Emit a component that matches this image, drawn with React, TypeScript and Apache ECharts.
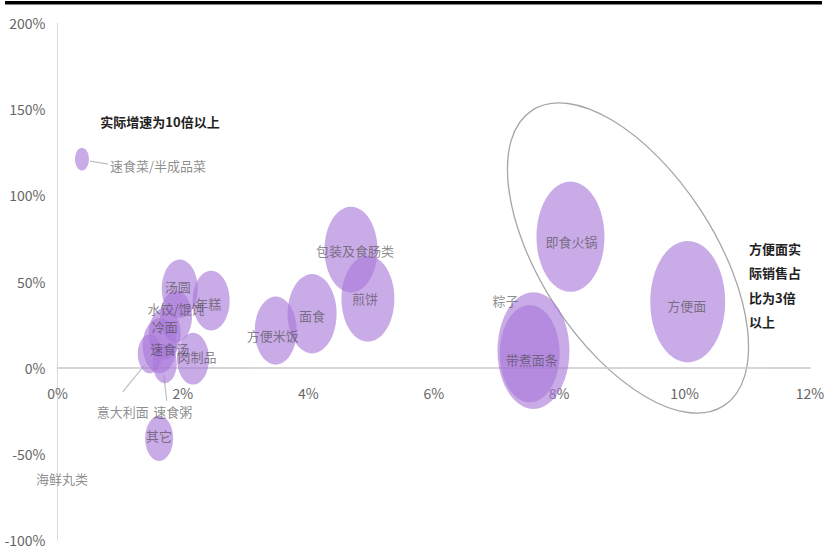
import React, { useEffect, useRef } from "react";
import * as echarts from "echarts";

// 品类（销售占比 %，实际增速 %，气泡宽度）
const names = [
  "速食菜/半成品菜", "汤圆", "年糕", "水饺/馄饨", "冷面", "意大利面", "速食汤", "速食粥",
  "肉制品", "其它", "海鲜丸类", "方便米饭", "面食", "包装及食肠类", "煎饼", "粽子",
  "带煮面条", "即食火锅", "方便面",
];
const shareX = [0.39, 1.95, 2.45, 1.89, 1.71, 1.47, 1.63, 1.71, 2.16, 1.62, 0.07, 3.48, 4.06, 4.68, 4.95, 7.59, 7.53, 8.18, 10.05];
const growthY = [121, 45.8, 38.9, 29.6, 19.7, 8, 12.8, 2.3, 5.2, -41, -63, 21.5, 31.3, 68.5, 40, 9.9, 8.1, 76, 38.3];
const bubbleSize = [14, 36, 37, 32, 32, 24, 34, 24, 32, 28, 0, 42, 49, 53, 53, 72, 60, 68, 75];

const xTicks = { min: 0, max: 12, interval: 2 };
const yTicks = { min: -100, max: 200, interval: 50 };

const noteTop = "实际增速为10倍以上";
const noteRight = ["方便面实", "际销售占", "比为3倍", "以上"];

// label layout (pixels relative to bubble centre)
const labelOffset: Record<string, [number, number, string?]> = {
  "速食菜/半成品菜": [28, 6, "left"],
  "汤圆": [-2, -2],
  "年糕": [-3, 3],
  "水饺/馄饨": [0, -8],
  "冷面": [0, -7],
  "意大利面": [-27, 58],
  "速食汤": [10, 3],
  "速食粥": [8, 48],
  "肉制品": [4, -2],
  "其它": [0, -3],
  "海鲜丸类": [0, 2],
  "方便米饭": [-3, 5],
  "面食": [0, 2],
  "包装及食肠类": [4, 1],
  "煎饼": [-3, 0],
  "粽子": [-28, -50],
  "带煮面条": [2, 6],
  "即食火锅": [1, 5],
  "方便面": [-1, 4],
};

// leader lines: [name, fromDx, fromDy, toDx, toDy]
const leaders: [string, number, number, number, number][] = [
  ["速食菜/半成品菜", 8, 2, 26, 5],
  ["意大利面", -5, 11, -27, 38],
  ["速食粥", -1, 11, 2, 37],
];

const FONT = "'Noto Sans CJK SC', 'Noto Sans', sans-serif";
const W = 827;
const H = 547;
const GRID = { left: 57.5, right: 17, top: 23, bottom: 7 };

export default function App() {
  const ref = useRef<HTMLDivElement>(null);
  useEffect(() => {
    if (!ref.current) return;
    const chart = echarts.init(ref.current, undefined, { renderer: "svg" });
    const data = names.map((n, i) => {
      const o = labelOffset[n] || [0, 0];
      return {
        name: n,
        value: [shareX[i], growthY[i], bubbleSize[i]],
        label: {
          show: true,
          position: "inside",
          offset: [o[0], o[1]],
          align: o[2] || "center",
        },
      };
    });
    // move the x axis (line + labels) up to the y = 0 level
    const gridH = H - GRID.top - GRID.bottom;
    const zeroY = GRID.top + (gridH * (yTicks.max - 0)) / (yTicks.max - yTicks.min);
    const xAxisOffset = zeroY - (H - GRID.bottom);

    const baseGraphic: any[] = [
      { type: "rect", shape: { x: 5, y: 1, width: 817, height: 3.5 }, style: { fill: "#000" }, silent: true },
      {
        type: "group",
        x: 628,
        y: 258,
        rotation: (-57 * Math.PI) / 180,
        children: [
          {
            type: "ellipse",
            shape: { cx: 0, cy: 0, rx: 176, ry: 87 },
            style: { fill: "none", stroke: "#a6a6a6", lineWidth: 1.3 },
          },
        ],
      },
      {
        type: "text",
        x: 160,
        y: 121,
        style: {
          text: noteTop,
          fill: "#222",
          font: `bold 13px ${FONT}`,
          align: "center",
          verticalAlign: "middle",
        },
      },
      ...noteRight.map((t, i) => ({
        type: "text",
        x: 749,
        y: 248 + i * 24.5,
        style: {
          text: t,
          fill: "#222",
          font: `bold 13px ${FONT}`,
          align: "left",
          verticalAlign: "middle",
        },
      })),
    ];
    chart.setOption({
      animation: false,
      grid: { ...GRID, outerBoundsMode: "none", containLabel: false },
      xAxis: {
        type: "value",
        min: xTicks.min,
        max: xTicks.max,
        interval: xTicks.interval,
        offset: xAxisOffset,
        splitLine: { show: false },
        axisTick: { show: false },
        axisLine: { show: true, onZero: false, lineStyle: { color: "#c8c8c8", width: 1.5 } },
        axisLabel: {
          formatter: "{value}%",
          color: "#666",
          fontSize: 14,
          fontFamily: FONT,
          margin: 18,
        },
      },
      yAxis: {
        type: "value",
        min: yTicks.min,
        max: yTicks.max,
        interval: yTicks.interval,
        splitLine: { show: false },
        axisTick: { show: false },
        axisLine: { show: true, lineStyle: { color: "#d9d9d9", width: 1 } },
        axisLabel: {
          formatter: "{value}%",
          color: "#666",
          fontSize: 14,
          fontFamily: FONT,
          margin: 12,
        },
      },
      series: [
        {
          type: "scatter",
          data,
          symbol: "circle",
          symbolSize: (v: number[]) => [v[2], v[2] * 1.62],
          itemStyle: { color: "#a878d8", opacity: 0.62 },
          label: {
            color: "#444",
            fontSize: 13,
            fontFamily: FONT,
            formatter: "{b}",
          },
          emphasis: { disabled: true },
        },
      ],
      graphic: baseGraphic,
    });
    const lines = leaders.map(([n, fx, fy, tx, ty]) => {
      const i = names.indexOf(n);
      const p = chart.convertToPixel({ gridIndex: 0 }, [shareX[i], growthY[i]]) as number[];
      return {
        type: "line",
        shape: { x1: p[0] + fx, y1: p[1] + fy, x2: p[0] + tx, y2: p[1] + ty },
        style: { stroke: "#bfbfbf", lineWidth: 1.2 },
        silent: true,
      };
    });
    chart.setOption({ graphic: [...baseGraphic, ...lines] });
    return () => chart.dispose();
  }, []);
  return (
    <div
      ref={ref}
      style={{ position: "fixed", left: 0, top: 0, width: W, height: H, background: "#fff" }}
    />
  );
}
